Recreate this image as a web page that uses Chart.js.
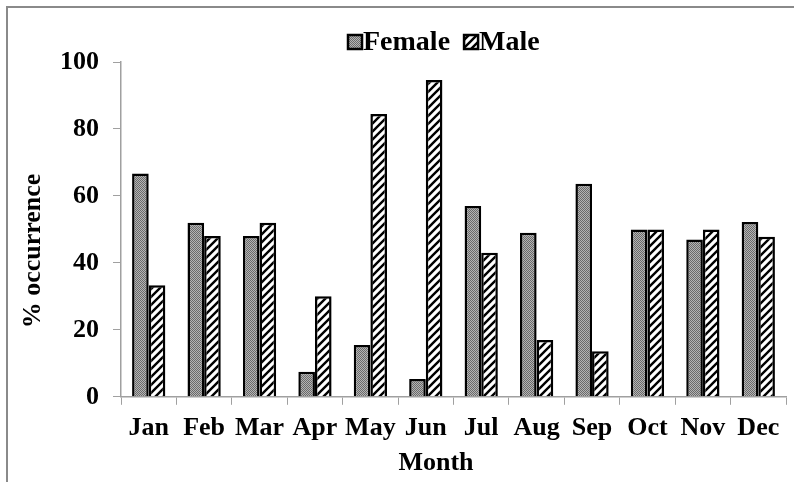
<!DOCTYPE html>
<html>
<head>
<meta charset="utf-8">
<script src="https://cdn.jsdelivr.net/npm/chart.js@4"></script>
<style>
  html, body { margin: 0; padding: 0; background: #fff; }
  #wrap { width: 794px; height: 482px; }
</style>
</head>
<body>
<div id="wrap"><canvas id="chart" width="794" height="482"></canvas></div>
<script>
const months = ['Jan', 'Feb', 'Mar', 'Apr', 'May', 'Jun', 'Jul', 'Aug', 'Sep', 'Oct', 'Nov', 'Dec'];
const female = [66.7, 52, 48, 7.5, 15.5, 5.3, 57, 49, 63.6, 50, 47, 52.2];
const male = [33.3, 48, 52, 30, 84.5, 94.6, 43, 17, 13.6, 50, 50, 47.8];
const yTicks = [0, 20, 40, 60, 80, 100];

const FONT = "'Liberation Serif', 'Times New Roman', serif";
const SIZE = 26;

// gray dotted fill
function dotPattern() {
    const c = document.createElement('canvas');
    c.width = 2; c.height = 2;
    const x = c.getContext('2d');
    x.fillStyle = '#b4b4b4';
    x.fillRect(0, 0, 2, 2);
    x.fillStyle = '#6a6a6a';
    x.fillRect(0, 0, 1, 1);
    x.fillRect(1, 1, 1, 1);
    return x.createPattern(c, 'repeat');
}

// white with black "/" stripes
function stripePattern() {
    const s = 8;
    const c = document.createElement('canvas');
    c.width = s; c.height = s;
    const x = c.getContext('2d');
    x.fillStyle = '#fff';
    x.fillRect(0, 0, s, s);
    x.strokeStyle = '#000';
    x.lineWidth = 2.4;
    x.beginPath();
    x.moveTo(0, s); x.lineTo(s, 0);
    x.moveTo(-s / 2, s / 2); x.lineTo(s / 2, -s / 2);
    x.moveTo(s / 2, s * 1.5); x.lineTo(s * 1.5, s / 2);
    x.stroke();
    return x.createPattern(c, 'repeat');
}

// frame, legend and axis titles placed like the original
const extrasPlugin = {
    id: 'extras',
    beforeDraw(chart) {
        const ctx = chart.ctx;
        ctx.save();
        ctx.fillStyle = '#fff';
        ctx.fillRect(0, 0, chart.width, chart.height);
        ctx.strokeStyle = '#8a8a8a';
        ctx.lineWidth = 2;
        ctx.beginPath();
        ctx.moveTo(7, chart.height + 5);
        ctx.lineTo(7, 7);
        ctx.lineTo(chart.width + 5, 7);
        ctx.stroke();
        ctx.restore();
    },
    afterDraw(chart) {
        const ctx = chart.ctx;
        ctx.save();
        ctx.fillStyle = '#000';
        ctx.textBaseline = 'middle';

        // legend
        ctx.font = 'bold 28px ' + FONT;
        const box = 14, gap = 1, between = 14;
        let lx = 348;
        const ly = 42;
        chart.data.datasets.forEach(d => {
            ctx.fillStyle = d.backgroundColor;
            ctx.fillRect(lx, ly - box / 2, box, box);
            ctx.strokeStyle = '#000';
            ctx.lineWidth = 2.5;
            ctx.strokeRect(lx, ly - box / 2, box, box);
            ctx.fillStyle = '#000';
            ctx.textAlign = 'left';
            ctx.fillText(d.label, lx + box + gap, ly + 1);
            lx += box + gap + ctx.measureText(d.label).width + between;
        });

        ctx.font = 'bold ' + SIZE + 'px ' + FONT;
        // x title
        ctx.textAlign = 'center';
        ctx.fillText('Month', 436, 463);

        // y title
        ctx.translate(33, 251);
        ctx.rotate(-Math.PI / 2);
        ctx.fillText('% occurrence', 0, 0);
        ctx.restore();
    }
};

new Chart(document.getElementById('chart').getContext('2d'), {
    type: 'bar',
    data: {
        labels: months,
        datasets: [
            {
                label: 'Female',
                data: female,
                backgroundColor: dotPattern(),
                borderColor: '#000',
                borderWidth: 2.5
            },
            {
                label: 'Male',
                data: male,
                backgroundColor: stripePattern(),
                borderColor: '#000',
                borderWidth: 2.5
            }
        ]
    },
    options: {
        responsive: false,
        animation: false,
        layout: { padding: { left: 46, right: 8, top: 62, bottom: 30 } },
        datasets: {
            bar: { categoryPercentage: 0.6, barPercentage: 1.0 }
        },
        plugins: {
            tooltip: { enabled: false },
            legend: { display: false }
        },
        scales: {
            x: {
                grid: {
                    display: true,
                    drawOnChartArea: false,
                    drawTicks: true,
                    tickLength: 8,
                    color: '#a0a0a0',
                    offset: true
                },
                border: { color: '#a0a0a0', width: 1.5 },
                ticks: {
                    color: '#000',
                    padding: 8,
                    maxRotation: 0,
                    minRotation: 0,
                    autoSkip: false,
                    font: { family: FONT, size: SIZE, weight: 'bold' }
                }
            },
            y: {
                min: 0,
                max: 100,
                afterBuildTicks(scale) {
                    scale.ticks = yTicks.map(v => ({ value: v }));
                },
                grid: {
                    display: true,
                    drawOnChartArea: false,
                    drawTicks: true,
                    tickLength: 8,
                    color: '#a0a0a0'
                },
                border: { color: '#a0a0a0', width: 1.5 },
                ticks: {
                    color: '#000',
                    padding: 14,
                    font: { family: FONT, size: SIZE, weight: 'bold' }
                }
            }
        }
    },
    plugins: [extrasPlugin]
});
</script>
</body>
</html>
